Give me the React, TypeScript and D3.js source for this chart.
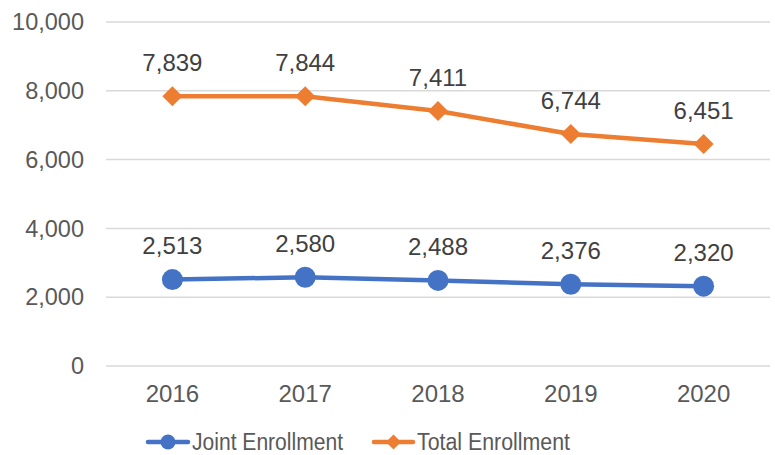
import React from "react";
import * as d3 from "d3";

const years = ["2016", "2017", "2018", "2019", "2020"];
const jointEnrollment = [2513, 2580, 2488, 2376, 2320];
const totalEnrollment = [7839, 7844, 7411, 6744, 6451];
const yTicks = [0, 2000, 4000, 6000, 8000, 10000];
const seriesNames = ["Joint Enrollment", "Total Enrollment"];
const seriesColors = ["#4472C4", "#ED7D31"];

export default function App() {
  const W = 775, H = 455;
  const left = 106, right = 770, top = 22, bottom = 366;
  const x = d3.scaleBand<string>().domain(years).range([left, right]);
  const y = d3.scaleLinear().domain([0, 10000]).range([bottom, top]);
  const cx = (d: string) => (x(d) as number) + x.bandwidth() / 2;
  const fmt = d3.format(",");
  const line = d3.line<number>().x((_, i) => cx(years[i])).y((v) => y(v));
  const font = "Arial, 'Liberation Sans', sans-serif";
  const diamond = (px: number, py: number, r: number) =>
    `M${px},${py - r}L${px + r},${py}L${px},${py + r}L${px - r},${py}Z`;

  const series = [jointEnrollment, totalEnrollment];

  return (
    <svg width={W} height={H} style={{ position: "absolute", left: 0, top: 0 }} fontFamily={font}>
      <rect width={W} height={H} fill="#fff" />
      {yTicks.map((t) => (
        <g key={t}>
          <line x1={left} x2={right} y1={y(t)} y2={y(t)} stroke="#D9D9D9" strokeWidth={1.5} />
          <text x={84} y={y(t)} dy="0.35em" textAnchor="end" fontSize={23.5} fill="#595959">
            {fmt(t)}
          </text>
        </g>
      ))}
      {years.map((yr) => (
        <text key={yr} x={cx(yr)} y={394} dy="0.35em" textAnchor="middle" fontSize={24} fill="#595959">
          {yr}
        </text>
      ))}
      {series.map((vals, si) => (
        <g key={si}>
          <path d={line(vals) || ""} fill="none" stroke={seriesColors[si]} strokeWidth={4.5} strokeLinejoin="round" strokeLinecap="round" />
          {vals.map((v, i) =>
            si === 0 ? (
              <circle key={i} cx={cx(years[i])} cy={y(v)} r={10.5} fill={seriesColors[si]} />
            ) : (
              <path key={i} d={diamond(cx(years[i]), y(v), 10)} fill={seriesColors[si]} />
            )
          )}
          {vals.map((v, i) => (
            <text key={"l" + i} x={cx(years[i])} y={y(v) - 33.5} dy="0.35em" textAnchor="middle" fontSize={24} fill="#404040">
              {fmt(v)}
            </text>
          ))}
        </g>
      ))}
      <g>
        <line x1={148} x2={188} y1={442} y2={442} stroke={seriesColors[0]} strokeWidth={4.5} strokeLinecap="round" />
        <circle cx={168} cy={442} r={7.5} fill={seriesColors[0]} />
        <text x={192} y={442} dy="0.35em" fontSize={23} textLength={151} lengthAdjust="spacingAndGlyphs" fill="#595959">{seriesNames[0]}</text>
        <line x1={374} x2={413} y1={442} y2={442} stroke={seriesColors[1]} strokeWidth={4.5} strokeLinecap="round" />
        <path d={diamond(393.5, 442, 7.5)} fill={seriesColors[1]} />
        <text x={417} y={442} dy="0.35em" fontSize={23} textLength={153} lengthAdjust="spacingAndGlyphs" fill="#595959">{seriesNames[1]}</text>
      </g>
    </svg>
  );
}
